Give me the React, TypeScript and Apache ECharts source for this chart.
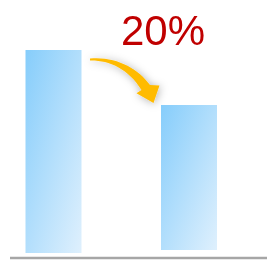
import React, { useEffect, useRef } from "react";
import * as echarts from "echarts";

const categories = ["Before", "After"];
const baseValues = [0, 1.5];
const barValues = [100, 71.4];
const changeLabel = "20%";

const arrowPath =
  "M 90 58.5 C 115 56, 138 68, 150 85 L 159.5 85.5 L 153.5 103 L 136.5 93.2 L 141.5 90 C 128 68, 108 60, 90 60.5 Z";

let registered = false;

export default function App() {
  const ref = useRef<HTMLDivElement>(null);
  useEffect(() => {
    if (!ref.current) return;
    if (!registered) {
      echarts.graphic.registerShape("curvedArrow", echarts.graphic.extendPath(arrowPath, {}));
      registered = true;
    }
    const chart = echarts.init(ref.current, null, { renderer: "svg" });
    const grad = new echarts.graphic.LinearGradient(0, 0, 1, 1, [
      { offset: 0, color: "#86CDFB" },
      { offset: 1, color: "#DFF0FD" },
    ]);
    chart.setOption({
      animation: false,
      grid: { left: 53.5, right: 78, top: 50, bottom: 11 },
      xAxis: {
        type: "category",
        data: categories,
        boundaryGap: false,
        axisLine: { show: false },
        axisTick: { show: false },
        axisLabel: { show: false },
        splitLine: { show: false },
      },
      yAxis: {
        type: "value",
        min: 0,
        max: 100,
        show: false,
        splitLine: { show: false },
      },
      series: [
        {
          type: "bar",
          stack: "a",
          data: baseValues,
          barWidth: 56,
          clip: false,
          itemStyle: { color: "transparent" },
          silent: true,
        },
        {
          type: "bar",
          stack: "a",
          data: barValues,
          barWidth: 56,
          clip: false,
          itemStyle: { color: grad },
        },
      ],
      graphic: {
        elements: [
          {
            type: "line",
            shape: { x1: 10, y1: 258, x2: 267, y2: 258 },
            style: { stroke: "#A6A6A6", lineWidth: 2.5 },
          },
          {
            type: "curvedArrow",
            x: 0,
            y: 0,
            style: {
              fill: "#FFBB00",
              shadowBlur: 8,
              shadowColor: "rgba(0,0,0,0.3)",
              shadowOffsetX: 1,
              shadowOffsetY: 1,
            },
          },
          {
            type: "text",
            x: 121,
            y: 30,
            style: {
              text: changeLabel,
              fill: "#C00000",
              font: '42px "Liberation Sans", Arial, sans-serif',
              align: "left",
              verticalAlign: "middle",
            },
          },
        ],
      },
    });
    return () => chart.dispose();
  }, []);
  return (
    <div
      ref={ref}
      style={{ position: "fixed", left: 0, top: 0, width: 267, height: 264 }}
    />
  );
}
